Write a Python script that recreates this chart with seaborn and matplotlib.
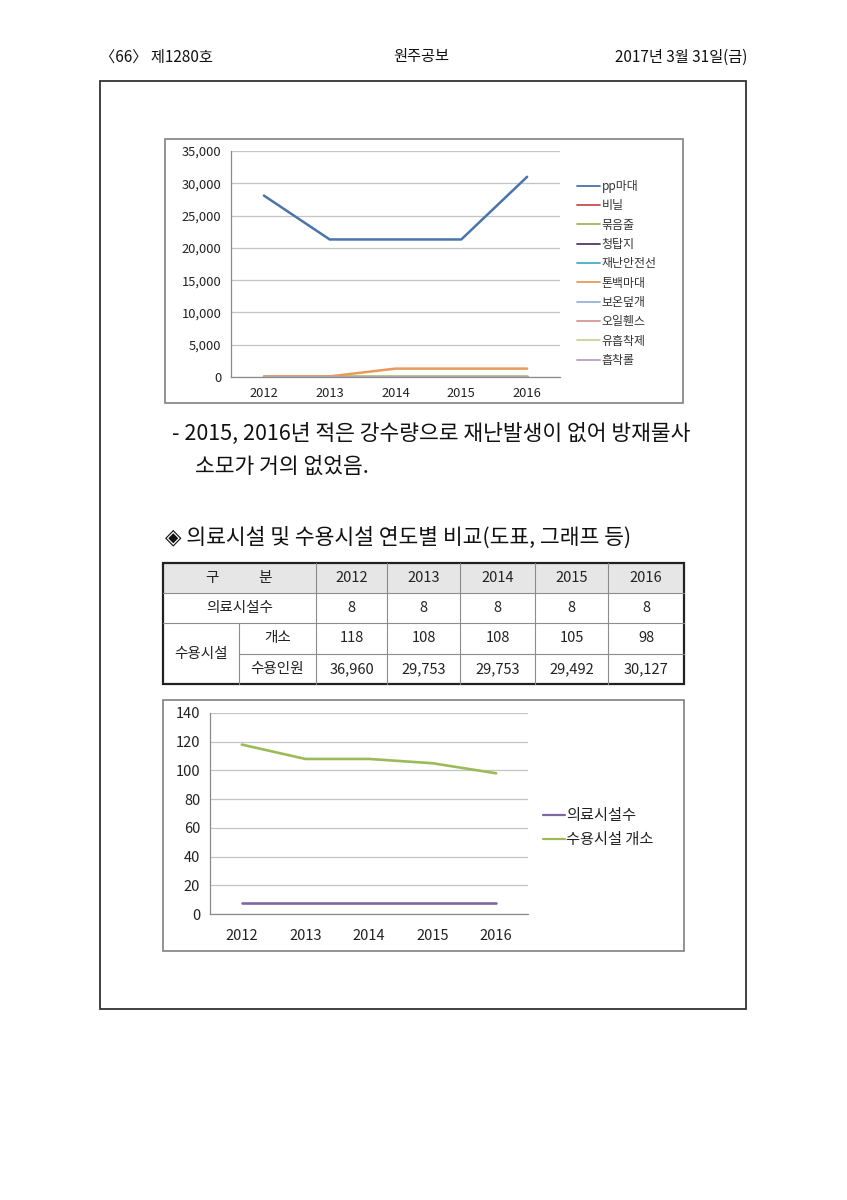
import numpy as np
import pandas as pd
import matplotlib
matplotlib.use("Agg")
import matplotlib.pyplot as plt
import seaborn as sns
from matplotlib.patches import Rectangle
from matplotlib.lines import Line2D

# ---------------- data ----------------
years = ["2012", "2013", "2014", "2015", "2016"]

supply_names = ["pp마대", "비닐", "묶음줄", "청탑지", "재난안전선",
                "톤백마대", "보온덮개", "오일휀스", "유흡착제", "흡착롤"]
pp_bag = [28100, 21300, 21300, 21300, 31000]
vinyl = [20, 20, 20, 20, 20]
bundle_rope = [150, 150, 150, 150, 150]
tarp = [10, 10, 10, 10, 10]
safety_line = [50, 50, 50, 50, 50]
tonbag = [100, 100, 1300, 1300, 1300]
cover = [30, 30, 30, 30, 30]
oil_fence = [5, 5, 5, 5, 5]
absorbent = [60, 60, 60, 60, 60]
absorb_roll = [40, 40, 40, 40, 40]
supply_values = [pp_bag, vinyl, bundle_rope, tarp, safety_line,
                 tonbag, cover, oil_fence, absorbent, absorb_roll]
supply_colors = ["#4A74AA", "#C0504D", "#9BBB59", "#4D3B62", "#4BACC6",
                 "#E89A5C", "#95B3D7", "#D99694", "#C3D69B", "#B3A2C7"]
supply_yticks = [0, 5000, 10000, 15000, 20000, 25000, 30000, 35000]

medical_count = [8, 8, 8, 8, 8]
shelter_count = [118, 108, 108, 105, 98]
shelter_people = [36960, 29753, 29753, 29492, 30127]
facility_names = ["의료시설수", "수용시설 개소"]
facility_colors = ["#7D68A3", "#9BBB59"]
facility_yticks = [0, 20, 40, 60, 80, 100, 120, 140]

# ---------------- style ----------------
sns.set_style("white")
plt.rcParams["font.family"] = ["Noto Sans CJK KR", "DejaVu Sans"]

W, H = 847, 1200
fig = plt.figure(figsize=(W / 100, H / 100), dpi=100)

page = fig.add_axes([0, 0, 1, 1])
page.set_xlim(0, W)
page.set_ylim(H, 0)
page.axis("off")
page.set_zorder(0)


def px_axes(l, t, r, b):
    ax = fig.add_axes([l / W, 1 - b / H, (r - l) / W, (b - t) / H])
    ax.set_zorder(2)
    return ax


# header
page.text(100, 57, "〈66〉 제1280호", fontsize=11, ha="left", va="center", color="#111")
page.text(421, 57, "원주공보", fontsize=11, ha="center", va="center", color="#111")
page.text(747, 57, "2017년 3월 31일(금)", fontsize=11, ha="right", va="center", color="#111")

# outer page box
page.add_patch(Rectangle((100, 81), 646, 928, fill=False, edgecolor="#333333", lw=1.3))

# chart frames
page.add_patch(Rectangle((165, 139), 518, 264, fill=False, edgecolor="#808080", lw=1.2))
page.add_patch(Rectangle((163, 700), 521, 251, fill=False, edgecolor="#808080", lw=1.2))

# body text
page.text(172, 434, "- 2015, 2016년 적은 강수량으로 재난발생이 없어 방재물사",
          fontsize=15.5, ha="left", va="center", color="#111")
page.text(195, 467, "소모가 거의 없었음.", fontsize=15.5, ha="left", va="center", color="#111")
page.text(165, 538, "◈ 의료시설 및 수용시설 연도별 비교(도표, 그래프 등)",
          fontsize=15.5, ha="left", va="center", color="#111")


def style_axes(ax, yticks, ylim, label_size, xlabel_pad):
    ax.set_xlim(-0.5, 4.5)
    ax.set_ylim(*ylim)
    ax.set_yticks(yticks)
    ax.set_xticks(range(len(years)))
    ax.set_xticklabels(years)
    ax.set_xticks(np.arange(-0.5, 5.0, 1.0), minor=True)
    ax.yaxis.grid(True, color="#C4C4C4", lw=0.9)
    ax.xaxis.grid(False)
    ax.set_axisbelow(True)
    for s in ["top", "right"]:
        ax.spines[s].set_visible(False)
    for s in ["left", "bottom"]:
        ax.spines[s].set_color("#8A8A8A")
        ax.spines[s].set_linewidth(0.9)
    ax.tick_params(axis="y", which="major", direction="out", length=4, width=0.8,
                   color="#8A8A8A", labelsize=label_size, labelcolor="#222", pad=3)
    ax.tick_params(axis="x", which="major", length=0, labelsize=label_size,
                   labelcolor="#222", pad=xlabel_pad)
    ax.tick_params(axis="x", which="minor", direction="out", length=5, width=0.8,
                   color="#8A8A8A")
    ax.set_xlabel("")
    ax.set_ylabel("")
    ax.set_facecolor("white")


# ---------------- top chart ----------------
rows = []
for name, vals in zip(supply_names, supply_values):
    for i, v in enumerate(vals):
        rows.append({"x": i, "value": v, "series": name})
df1 = pd.DataFrame(rows)

ax1 = px_axes(231, 151, 560, 377)
sns.lineplot(data=df1, x="x", y="value", hue="series", hue_order=supply_names,
             palette=supply_colors, linewidth=1.8, ax=ax1, legend=False)
style_axes(ax1, supply_yticks, (0, 35000), 9.3, 7)
ax1.set_yticklabels([f"{t:,}" for t in supply_yticks])

h1 = [Line2D([0], [0], color=c, lw=1.3) for c in supply_colors]
ax1.legend(h1, supply_names, loc="upper left",
           bbox_to_anchor=(577 / W, 1 - 180 / H), bbox_transform=fig.transFigure,
           frameon=False, fontsize=8.6, handlelength=1.95, handletextpad=0.1,
           labelspacing=0.53, borderpad=0, borderaxespad=0, labelcolor="#333")

# ---------------- table ----------------
col_x = [163, 239, 316, 387, 460, 535, 608, 684]
row_y = [563, 593, 623, 654, 684]
page.add_patch(Rectangle((col_x[0], row_y[0]), col_x[-1] - col_x[0], row_y[1] - row_y[0],
                         facecolor="#E6E6E6", edgecolor="none"))
thin = dict(color="#8C8C8C", lw=0.8)
page.plot([col_x[0], col_x[-1]], [row_y[1], row_y[1]], **thin)
page.plot([col_x[0], col_x[-1]], [row_y[2], row_y[2]], **thin)
page.plot([col_x[1], col_x[-1]], [row_y[3], row_y[3]], **thin)
for x in col_x[2:-1]:
    page.plot([x, x], [row_y[0], row_y[-1]], **thin)
page.plot([col_x[1], col_x[1]], [row_y[2], row_y[-1]], **thin)
page.add_patch(Rectangle((col_x[0], row_y[0]), col_x[-1] - col_x[0], row_y[-1] - row_y[0],
                         fill=False, edgecolor="#222222", lw=1.6))

tfs = 10.5
tcol = "#222"
page.text(212, 578, "구", fontsize=tfs, ha="center", va="center", color=tcol)
page.text(265, 578, "분", fontsize=tfs, ha="center", va="center", color=tcol)
page.text((col_x[0] + col_x[2]) / 2, 608, "의료시설수", fontsize=tfs, ha="center", va="center", color=tcol)
page.text((col_x[0] + col_x[1]) / 2, row_y[3], "수용시설", fontsize=tfs, ha="center", va="center", color=tcol)
page.text((col_x[1] + col_x[2]) / 2, 638, "개소", fontsize=tfs, ha="center", va="center", color=tcol)
page.text((col_x[1] + col_x[2]) / 2, 669, "수용인원", fontsize=tfs, ha="center", va="center", color=tcol)
for j, yr in enumerate(years):
    cx = (col_x[j + 2] + col_x[j + 3]) / 2
    page.text(cx, 578, yr, fontsize=tfs, ha="center", va="center", color=tcol)
    page.text(cx, 608, f"{medical_count[j]}", fontsize=tfs, ha="center", va="center", color=tcol)
    page.text(cx, 638, f"{shelter_count[j]}", fontsize=tfs, ha="center", va="center", color=tcol)
    page.text(cx, 669, f"{shelter_people[j]:,}", fontsize=tfs, ha="center", va="center", color=tcol)

# ---------------- bottom chart ----------------
rows = []
for name, vals in zip(facility_names, [medical_count, shelter_count]):
    for i, v in enumerate(vals):
        rows.append({"x": i, "value": v, "series": name})
df2 = pd.DataFrame(rows)

ax2 = px_axes(210, 713, 528, 914)
sns.lineplot(data=df2, x="x", y="value", hue="series", hue_order=facility_names,
             palette=facility_colors, linewidth=1.9, ax=ax2, legend=False)
style_axes(ax2, facility_yticks, (0, 140), 10.5, 11)

h2 = [Line2D([0], [0], color=c, lw=1.6) for c in facility_colors]
ax2.legend(h2, facility_names, loc="upper left",
           bbox_to_anchor=(543 / W, 1 - 807 / H), bbox_transform=fig.transFigure,
           frameon=False, fontsize=11, handlelength=1.45, handletextpad=0.05,
           labelspacing=0.48, borderpad=0, borderaxespad=0, labelcolor="#222")

fig.savefig("out.png", dpi=100)
